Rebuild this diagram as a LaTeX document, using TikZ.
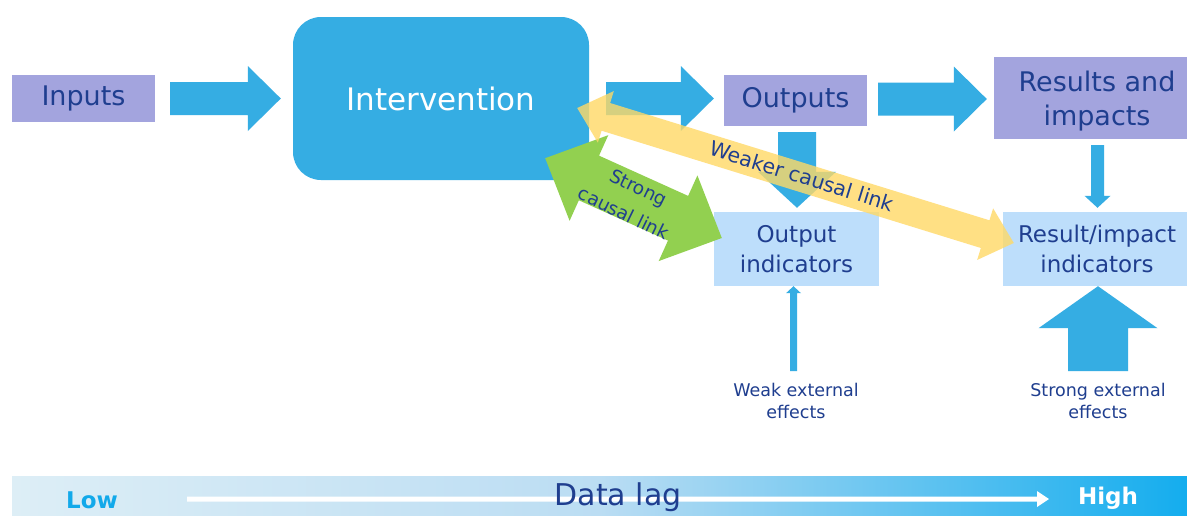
\documentclass[tikz,border=0pt]{standalone}
\usepackage{fontspec}
\setmainfont{DejaVu Sans}
\usetikzlibrary{calc}
\definecolor{lav}{HTML}{A3A4DE}
\definecolor{bblue}{HTML}{35ADE3}
\definecolor{lblue}{HTML}{BDDEFB}
\definecolor{navy}{HTML}{1F3E8F}
\definecolor{grn}{HTML}{92D050}
\definecolor{yel}{HTML}{FFD966}
\definecolor{lowcyan}{HTML}{12A9EA}
\definecolor{barL}{HTML}{DDEEF6}
\definecolor{barM}{HTML}{BBDDF3}
\definecolor{barR}{HTML}{14ADEE}
% single block arrow: #1 style, #2 start, #3 tip, #4 shaft half width, #5 head half width, #6 head length
\newcommand{\blockarr}[6]{%
  \coordinate (ba-b) at ($(#3)!#6!(#2)$);
  \fill[#1] ($(#2)!#4!90:(#3)$) -- ($(ba-b)!#4!90:(#3)$) -- ($(ba-b)!#5!90:(#3)$) -- (#3)
    -- ($(ba-b)!#5!-90:(#3)$) -- ($(ba-b)!#4!-90:(#3)$) -- ($(#2)!#4!-90:(#3)$) -- cycle;}
% double block arrow
\newcommand{\dblarr}[6]{%
  \coordinate (da-b1) at ($(#2)!#6!(#3)$);
  \coordinate (da-b2) at ($(#3)!#6!(#2)$);
  \fill[#1] (#2) -- ($(da-b1)!#5!90:(#3)$) -- ($(da-b1)!#4!90:(#3)$) -- ($(da-b2)!#4!-90:(#2)$)
    -- ($(da-b2)!#5!-90:(#2)$) -- (#3) -- ($(da-b2)!#5!90:(#2)$) -- ($(da-b2)!#4!90:(#2)$)
    -- ($(da-b1)!#4!-90:(#3)$) -- ($(da-b1)!#5!-90:(#3)$) -- cycle;}
\tikzset{
  boxnode/.style={inner sep=0pt, text=navy, align=center},
  bigtext/.style={font=\fontsize{27}{34}\selectfont},
  indtext/.style={font=\fontsize{23}{30}\selectfont},
  smalltext/.style={font=\fontsize{17.5}{22}\selectfont, text=navy, align=center},
  linktext/.style={text=navy, inner sep=0pt, font=\fontsize{18.5}{22}\selectfont, rotate=-26},
  flow/.style={fill=bblue},
}
\begin{document}
\begin{tikzpicture}[x=1pt,y=-1pt]
\clip (0,0) rectangle (1187,515);
\fill[white] (0,0) rectangle (1187,515);
% boxes
\node[boxnode, fill=bblue, text=white, rounded corners=28pt, minimum width=296pt, minimum height=163pt, font=\fontsize{31}{37}\selectfont] (interv) at (441,98.5) {Intervention};
\node[boxnode, fill=lav, bigtext, minimum width=143pt, minimum height=47pt] (inputs) at (83.5,98.5) {Inputs};
\node[boxnode, fill=lav, bigtext, minimum width=143pt, minimum height=51pt] (outputs) at (795.5,100.5) {Outputs};
\node[boxnode, fill=lav, minimum width=206pt, minimum height=82pt] (res) at (1097,98) {};
\node[boxnode, bigtext] (restext) at (1097,101) {Results and\\impacts};
\node[boxnode, fill=lblue, indtext, minimum width=165pt, minimum height=74pt] (outind) at (796.5,249) {Output\\indicators};
\node[boxnode, fill=lblue, indtext, minimum width=188pt, minimum height=74pt] (resind) at (1097,249) {Result/impact\\indicators};
\node[smalltext] (weak) at (796,401) {Weak external\\effects};
\node[smalltext] (strong) at (1098,401) {Strong external\\effects};
% arrow end points
\coordinate (a1s) at ($(inputs.east)+(15,0)$);
\coordinate (a1e) at ($(interv.west)+(-12,0)$);
\coordinate (a2s) at ($(interv.east)+(17,0)$);
\coordinate (a2e) at ($(outputs.west)+(-10,-2)$);
\coordinate (a3s) at ($(outputs.east)+(11,-1.5)$);
\coordinate (a3e) at ($(res.west)+(-7,1)$);
\coordinate (a4s) at ($(outputs.south)+(1.5,6)$);
\coordinate (a4e) at ($(outind.north)+(0.5,-4)$);
\coordinate (a5s) at ($(res.south)+(0.5,6)$);
\coordinate (a5e) at ($(resind.north)+(0.5,-4)$);
\coordinate (a6s) at ($(outind.south)+(-3,85)$);
\coordinate (a6e) at ($(outind.south)+(-3,0)$);
\coordinate (a7s) at ($(resind.south)+(1,85)$);
\coordinate (a7e) at ($(resind.south)+(1,0)$);
% blue flow arrows
\blockarr{flow}{a1s}{a1e}{16.5pt}{32.5pt}{33pt}
\blockarr{flow}{a2s}{a2e}{16.5pt}{32.5pt}{33pt}
\blockarr{flow}{a3s}{a3e}{16.5pt}{32.5pt}{33pt}
\blockarr{flow}{a4s}{a4e}{19pt}{39pt}{36pt}
\blockarr{flow}{a5s}{a5e}{6.5pt}{13pt}{12pt}
\blockarr{flow}{a6s}{a6e}{3.5pt}{7.5pt}{7pt}
\blockarr{flow}{a7s}{a7e}{30pt}{59.5pt}{42pt}
% strong causal link
\coordinate (gA) at ($(interv.south east)+(-44,-22)$);
\coordinate (gB) at ($(outind.west)+(8,-11)$);
\dblarr{fill=grn}{gA}{gB}{24.5pt}{47pt}{48pt}
% weaker causal link
\coordinate (yA) at ($(interv.east)+(-12,9.5)$);
\coordinate (yB) at ($(resind.west)+(11,-6)$);
\dblarr{fill=yel, fill opacity=0.8}{yA}{yB}{14.5pt}{27pt}{30pt}
\node[linktext] (glabel1) at (638,189) {Strong};
\node[linktext] (glabel2) at (624,213) {causal link};
\node[text=navy, font=\fontsize{20.5}{24}\selectfont, rotate=-17.2] (ylabel) at (802,176) {Weaker causal link};
% data lag bar
\shade[left color=barL, right color=barR, middle color=barM] (12,476) rectangle (1187,515);
\coordinate (lagS) at (187,499);
\coordinate (lagE) at (1049,499);
\blockarr{fill=white}{lagS}{lagE}{2.5pt}{8pt}{12pt}
\node[text=lowcyan, font=\bfseries\fontsize{23}{27}\selectfont] (low) at (92,500) {Low};
\node[text=white, font=\bfseries\fontsize{23}{27}\selectfont] (high) at (1108,498) {High};
\node[text=navy, font=\fontsize{30}{35}\selectfont] (datalag) at (618,497) {Data lag};
\end{tikzpicture}
\end{document}
